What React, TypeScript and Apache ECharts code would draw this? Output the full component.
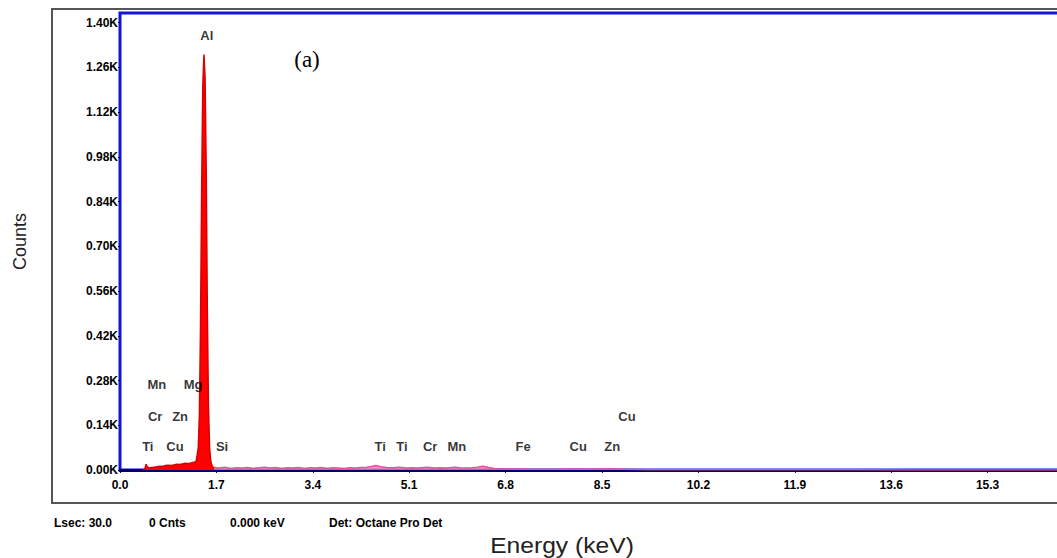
import React, { useEffect, useRef } from "react";
import * as echarts from "echarts";

// Spectrum: low-energy part (red) in keV / counts
const energyRed = [0.40, 0.44, 0.46, 0.48, 0.52, 0.56, 0.60, 0.65, 0.70, 0.75, 0.80, 0.85, 0.90, 0.95, 1.00, 1.05, 1.10, 1.15, 1.20, 1.25, 1.30, 1.34, 1.36, 1.38, 1.40, 1.42, 1.44, 1.46, 1.48, 1.50, 1.52, 1.54, 1.56, 1.58, 1.60, 1.62, 1.64, 1.66];
const countsRed = [0, 4, 18, 10, 6, 8, 9, 10, 12, 11, 14, 15, 14, 16, 18, 17, 19, 21, 20, 22, 24, 26, 45, 70, 170, 450, 880, 1200, 1300, 1230, 950, 500, 200, 70, 28, 14, 9, 8];

// Spectrum: higher-energy background (pink)
const energyPink = [1.66, 1.75, 1.85, 1.95, 2.05, 2.15, 2.25, 2.35, 2.45, 2.55, 2.65, 2.75, 2.85, 2.95, 3.05, 3.15, 3.25, 3.35, 3.45, 3.55, 3.65, 3.75, 3.85, 3.95, 4.05, 4.15, 4.25, 4.35, 4.45, 4.51, 4.60, 4.70, 4.80, 4.93, 5.05, 5.15, 5.25, 5.41, 5.55, 5.65, 5.75, 5.90, 6.00, 6.10, 6.20, 6.30, 6.40, 6.50, 6.60, 6.70, 6.80, 7.00, 7.20, 7.50, 7.80, 8.05, 8.30, 8.64, 8.90, 9.30, 10.0, 11.0, 12.0, 13.0, 14.0, 15.0, 16.0, 17.0];
const countsPink = [8, 6, 9, 5, 7, 6, 8, 5, 7, 9, 6, 8, 5, 7, 6, 8, 5, 7, 6, 8, 5, 7, 6, 5, 7, 6, 8, 9, 12, 14, 10, 8, 7, 9, 6, 7, 6, 9, 6, 7, 6, 9, 7, 6, 7, 9, 12, 8, 5, 4, 3, 3, 2, 2, 2, 3, 2, 4, 2, 1, 1, 1, 1, 1, 0, 0, 0, 0];

// Element label annotations: name, energy (keV), height (counts)
const elementNames = ["Al", "Mn", "Mg", "Cr", "Zn", "Ti", "Cu", "Si", "Ti", "Ti", "Cr", "Mn", "Fe", "Cu", "Zn", "Cu"];
const elementEnergy = [1.53, 0.65, 1.29, 0.62, 1.06, 0.49, 0.97, 1.80, 4.59, 4.97, 5.47, 5.94, 7.11, 8.08, 8.68, 8.94];
const elementHeight = [1361, 269, 269, 166, 166, 72, 72, 72, 72, 72, 72, 72, 72, 72, 72, 166];

const X_MIN = 0;
const X_MAX = 17;
const X_INTERVAL = 1.7;
const Y_MIN = 0;
const Y_MAX = 1430;
const Y_INTERVAL = 140;

const footerTexts = ["Lsec: 30.0", "0 Cnts", "0.000 keV", "Det: Octane Pro Det"];

const CHART_W = 1100;

export default function App() {
  const ref = useRef<HTMLDivElement>(null);

  useEffect(() => {
    document.body.style.margin = "0";
    if (!ref.current) return;
    const chart = echarts.init(ref.current, null, { renderer: "svg" });
    const tickFont = "'Liberation Sans', Arial, sans-serif";
    const redData = energyRed.map((e, i) => [e, countsRed[i]]);
    const pinkData = energyPink.map((e, i) => [e, countsPink[i]]);
    const labelData = elementNames.map((n, i) => [elementEnergy[i], elementHeight[i], n]);
    const footerX = [54, 149, 230, 329];

    chart.setOption({
      animation: false,
      backgroundColor: "#ffffff",
      grid: {
        left: 120,
        top: 13,
        right: CHART_W - 1084,
        bottom: 88,
        show: true,
        borderColor: "#1414d8",
        borderWidth: 3,
        backgroundColor: "transparent",
        outerBoundsMode: "none",
      },
      xAxis: {
        type: "value",
        min: X_MIN,
        max: X_MAX,
        interval: X_INTERVAL,
        splitLine: { show: false },
        axisLine: { show: true, onZero: false, lineStyle: { color: "#00006e", width: 3 } },
        axisTick: { show: true, length: 3, lineStyle: { color: "#00006e", width: 1 } },
        axisLabel: {
          margin: 9,
          color: "#000",
          fontSize: 12,
          fontWeight: "bold",
          fontFamily: tickFont,
          showMaxLabel: false,
          formatter: (v: number) => v.toFixed(1),
        },
      },
      yAxis: {
        type: "value",
        min: Y_MIN,
        max: Y_MAX,
        interval: Y_INTERVAL,
        name: "Counts",
        nameLocation: "middle",
        nameGap: 91,
        nameTextStyle: { fontSize: 18, color: "#222", fontFamily: tickFont },
        splitLine: { show: false },
        axisLine: { show: false },
        axisTick: { show: true, length: 2, lineStyle: { color: "#000" } },
        axisLabel: {
          margin: 2,
          color: "#000",
          fontSize: 12,
          fontWeight: "bold",
          fontFamily: tickFont,
          showMaxLabel: false,
          formatter: (v: number) => (v / 1000).toFixed(2) + "K",
        },
      },
      series: [
        {
          type: "line",
          data: pinkData,
          symbol: "none",
          lineStyle: { color: "#e6509e", width: 1.5 },
          areaStyle: { color: "#f07ab8", opacity: 0.8 },
          z: 2,
        },
        {
          type: "line",
          data: redData,
          symbol: "none",
          lineStyle: { color: "#d80000", width: 1.5 },
          areaStyle: { color: "#ff0000", opacity: 1 },
          z: 3,
        },
        {
          type: "scatter",
          data: labelData,
          symbolSize: 0,
          silent: true,
          z: 5,
          label: {
            show: true,
            position: "inside",
            formatter: (p: any) => p.data[2],
            color: "#000",
            fontSize: 13,
            fontWeight: "bold",
            fontFamily: tickFont,
          },
        },
      ],
      graphic: [
        {
          type: "rect",
          shape: { x: 52, y: 9, width: 1100, height: 494 },
          style: { fill: "none", stroke: "#555", lineWidth: 2 },
          silent: true,
          z: 0,
        },
        {
          type: "text",
          x: 307,
          y: 59,
          style: {
            text: "(a)",
            fontSize: 23,
            fontFamily: "'Liberation Serif', 'Times New Roman', serif",
            fill: "#000",
            align: "center",
            verticalAlign: "middle",
          },
          z: 10,
        },
        {
          type: "text",
          x: 562,
          y: 545,
          scaleX: 1.12,
          style: {
            text: "Energy (keV)",
            fontSize: 22,
            fontFamily: tickFont,
            fill: "#222",
            align: "center",
            verticalAlign: "middle",
          },
          z: 10,
        },
        ...footerTexts.map((t, i) => ({
          type: "text",
          x: footerX[i],
          y: 523,
          style: {
            text: t,
            fontSize: 12,
            fontWeight: "bold",
            fontFamily: tickFont,
            fill: "#000",
            align: "left",
            verticalAlign: "middle",
          },
          z: 10,
        })),
      ],
    });

    return () => chart.dispose();
  }, []);

  return (
    <div style={{ width: 1057, height: 558, overflow: "hidden", position: "relative" }}>
      <div ref={ref} style={{ width: CHART_W, height: 558 }} />
    </div>
  );
}
